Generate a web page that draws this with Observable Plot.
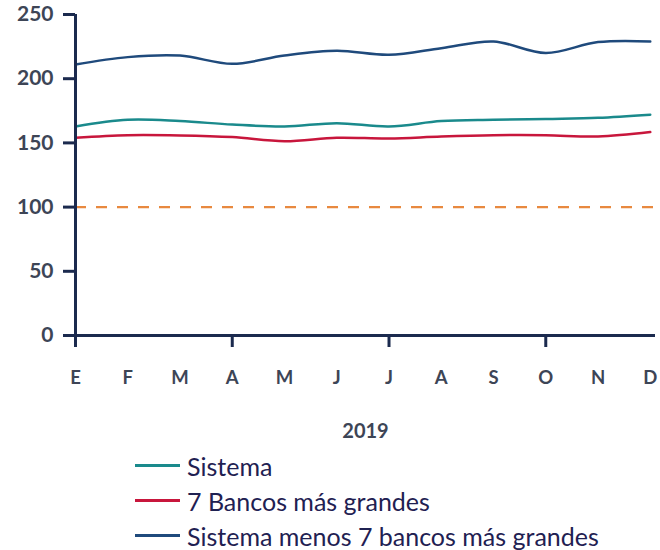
<!DOCTYPE html>
<html>
<head>
<meta charset="utf-8">
<script src="https://cdn.jsdelivr.net/npm/d3@7"></script>
<script src="https://cdn.jsdelivr.net/npm/@observablehq/plot@0.6"></script>
<style>
  body { margin: 0; background: #fff; font-family: Lato, "Open Sans", sans-serif; }
  #legend { margin-left: 135px; margin-top: -2px; }
  .row { display: flex; align-items: center; height: 35px; font-size: 25px; color: #1f2152; }
  .sw { width: 45px; height: 3px; margin-right: 7px; }
</style>
</head>
<body>
<div id="chart"></div>
<div id="legend"></div>
<script>
const months = ["E","F","M","A","M","J","J","A","S","O","N","D"];
const seriesNames = ["Sistema", "7 Bancos más grandes", "Sistema menos 7 bancos más grandes"];
const seriesColors = ["#1a8a8c", "#c8163c", "#1f4a7c"];
const sistema = [162.8, 168, 167, 164.3, 162.8, 165.4, 162.8, 167, 168, 168.7, 169.5, 171.9];
const bancos7 = [154, 156, 155.8, 154.5, 151.3, 154, 153.4, 155, 156, 156, 155, 158.4];
const menos7 = [211, 216.8, 218, 211.6, 218, 221.7, 218.6, 223.8, 229, 220, 228.5, 229];
const yTicks = [0, 50, 100, 150, 200, 250];
const quarterTicks = [0, 3, 6, 9];
const reference = [100];
const xLabel = "2019";

const allSeries = [sistema, bancos7, menos7];
const data = allSeries.flatMap((vals, s) => vals.map((v, i) => ({ m: i, v, s: seriesNames[s] })));

const navy = "#1b2a4e";
const tickText = "#3d4556";

const chart = Plot.plot({
  width: 660,
  height: 450,
  marginTop: 14,
  marginBottom: 115,
  marginLeft: 75,
  marginRight: 5,
  style: { fontFamily: "Lato, sans-serif", background: "#fff" },
  x: { domain: [0, 11.1] },
  y: { domain: [0, 250] },
  color: { domain: seriesNames, range: seriesColors },
  marks: [
    Plot.ruleY(reference, { stroke: "#e8893f", strokeWidth: 2.2, strokeDasharray: "11,10" }),
    Plot.line(data, { x: "m", y: "v", z: "s", stroke: "s", strokeWidth: 2.5, curve: "catmull-rom" }),
    Plot.axisY({ ticks: yTicks, tickSize: 12, tickPadding: 10, stroke: navy, strokeWidth: 3, fill: tickText, fontSize: 21, fontWeight: "bold", label: null }),
    Plot.axisX({ ticks: quarterTicks, tickSize: 12, tickFormat: () => "", stroke: navy, strokeWidth: 3, label: null }),
    Plot.axisX({ ticks: d3.range(12), tickSize: 0, tickPadding: 35, tickFormat: i => months[i], fill: tickText, fontSize: 18.5, fontWeight: "bold", label: xLabel, labelAnchor: "center", labelArrow: "none", labelOffset: 102 }),
    Plot.ruleY([0], { stroke: navy, strokeWidth: 3 }),
    Plot.ruleX([0], { stroke: navy, strokeWidth: 3 })
  ]
});
chart.querySelectorAll("text").forEach(t => {
  if (t.textContent === xLabel) { t.setAttribute("font-size", "20"); t.setAttribute("font-weight", "bold"); t.setAttribute("fill", tickText); }
});
document.getElementById("chart").append(chart);

const legend = document.getElementById("legend");
seriesNames.forEach((n, i) => {
  const row = document.createElement("div");
  row.className = "row";
  row.innerHTML = `<span class="sw" style="background:${seriesColors[i]}"></span><span>${n}</span>`;
  legend.append(row);
});
</script>
</body>
</html>
